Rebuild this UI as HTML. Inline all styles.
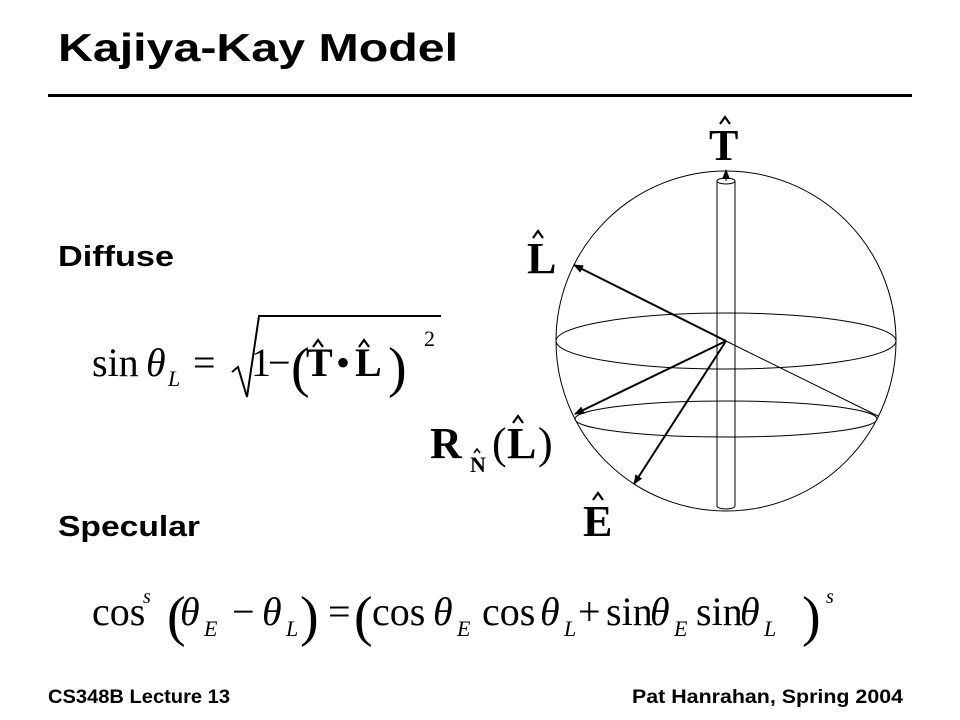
<!DOCTYPE html>
<html><head><meta charset="utf-8"><style>
html,body{margin:0;padding:0;background:#fff}
svg{display:block}
.s{font-family:"Liberation Sans",sans-serif;font-weight:bold}
.m{font-family:"Liberation Serif",serif}
.b{font-family:"Liberation Serif",serif;font-weight:bold}
.i{font-family:"Liberation Serif",serif;font-style:italic}
</style></head><body>
<svg width="960" height="720" viewBox="0 0 960 720" xmlns="http://www.w3.org/2000/svg">
<defs><marker id="a" markerWidth="10" markerHeight="8" refX="9" refY="4" orient="auto" markerUnits="userSpaceOnUse"><path d="M0,0 L10,4 L0,8 z" fill="#000"/></marker></defs>
<text class="s" x="58" y="61" font-size="39" textLength="400" lengthAdjust="spacingAndGlyphs">Kajiya-Kay Model</text>
<rect x="48" y="94" width="864" height="3" fill="#000"/>
<text class="s" x="58" y="266" font-size="29" textLength="116" lengthAdjust="spacingAndGlyphs">Diffuse</text>
<text class="s" x="58" y="536" font-size="29" textLength="142" lengthAdjust="spacingAndGlyphs">Specular</text>
<text class="s" x="48" y="703" font-size="19" textLength="182" lengthAdjust="spacingAndGlyphs">CS348B Lecture 13</text>
<text class="s" x="632" y="703" font-size="19" textLength="271" lengthAdjust="spacingAndGlyphs">Pat Hanrahan, Spring 2004</text>

<!-- formula 1 -->
<g font-size="40">
<text class="m" x="92" y="376">sin</text>
<text class="i" x="146" y="376">θ</text>
<text class="i" x="168" y="386" font-size="22">L</text>
<text class="m" x="193" y="376">=</text>
<path d="M232,372 L238,367 L247,397 L259,316 L441,316" fill="none" stroke="#000" stroke-width="2"/>
<text class="m" x="251" y="376">1</text>
<text class="m" x="268" y="376">−</text>
<text class="m" x="291" y="386" font-size="56">(</text>
<text class="b" x="306" y="376">T</text>
<text class="m" x="336" y="376">•</text>
<text class="b" x="355" y="376">L</text>
<text class="m" x="388" y="386" font-size="56">)</text>
<text class="m" x="424" y="346" font-size="22">2</text>
</g>

<!-- formula 2 -->
<g font-size="40">
<text class="m" x="92" y="625">cos</text>
<text class="i" x="143" y="603" font-size="20">s</text>
<text class="m" x="167" y="635" font-size="56">(</text>
<text class="i" x="180" y="625">θ</text><text class="i" x="204" y="636" font-size="22">E</text>
<text class="m" x="232" y="625">−</text>
<text class="i" x="262" y="625">θ</text><text class="i" x="286" y="636" font-size="22">L</text>
<text class="m" x="300" y="635" font-size="56">)</text>
<text class="m" x="328" y="625">=</text>
<text class="m" x="354" y="635" font-size="56">(</text>
<text class="m" x="372" y="625">cos</text>
<text class="i" x="433" y="625">θ</text><text class="i" x="457" y="636" font-size="22">E</text>
<text class="m" x="482" y="625">cos</text>
<text class="i" x="540" y="625">θ</text><text class="i" x="564" y="636" font-size="22">L</text>
<text class="m" x="578" y="625">+</text>
<text class="m" x="606" y="625">sin</text>
<text class="i" x="650" y="625">θ</text><text class="i" x="674" y="636" font-size="22">E</text>
<text class="m" x="696" y="625">sin</text>
<text class="i" x="740" y="625">θ</text><text class="i" x="764" y="636" font-size="22">L</text>
<text class="m" x="802" y="635" font-size="56">)</text>
<text class="i" x="826" y="603" font-size="20">s</text>
</g>

<!-- sphere diagram -->
<g fill="none" stroke="#000" stroke-width="1">
<circle cx="726" cy="341" r="170"/>
<ellipse cx="726" cy="341" rx="170" ry="28"/>
<ellipse cx="726" cy="419" rx="151" ry="18"/>
<line x1="717" y1="181" x2="717" y2="506"/>
<line x1="735" y1="181" x2="735" y2="506"/>
<ellipse cx="726" cy="181" rx="9" ry="3"/>
<path d="M717,506 A9,3 0 0 0 735,506"/>
<line x1="726" y1="341" x2="878" y2="416"/>
</g>
<g stroke="#000" stroke-width="2" fill="none">
<line x1="726" y1="181" x2="726" y2="170" marker-end="url(#a)" stroke-width="1"/>
<line x1="726" y1="341" x2="574" y2="265" marker-end="url(#a)"/>
<line x1="726" y1="341" x2="575" y2="414" marker-end="url(#a)"/>
<line x1="726" y1="341" x2="634" y2="484" marker-end="url(#a)"/>
</g>
<g font-size="44">
<text class="b" x="709" y="160">T</text>
<text class="b" x="527" y="273">L</text>
<text class="b" x="430" y="458">R</text>
<text class="b" x="470" y="472" font-size="22">N</text>
<text class="m" x="492" y="458">(</text>
<text class="b" x="507" y="458">L</text>
<text class="m" x="538" y="458">)</text>
<text class="b" x="583" y="536">E</text>
</g>
<!-- hats -->
<g fill="none" stroke="#000" stroke-width="2.2">
<path d="M720,124 L725,117 L730,124"/>
<path d="M533,238 L538,231 L543,238"/>
<path d="M513,423 L518,416 L523,423"/>
<path d="M474,453 L477,449 L480,453" stroke-width="1.5"/>
<path d="M593,500 L598,493 L603,500"/>
<path d="M313,347 L318,340 L323,347"/>
<path d="M359,347 L364,340 L369,347"/>
</g>
</svg>
</body></html>
